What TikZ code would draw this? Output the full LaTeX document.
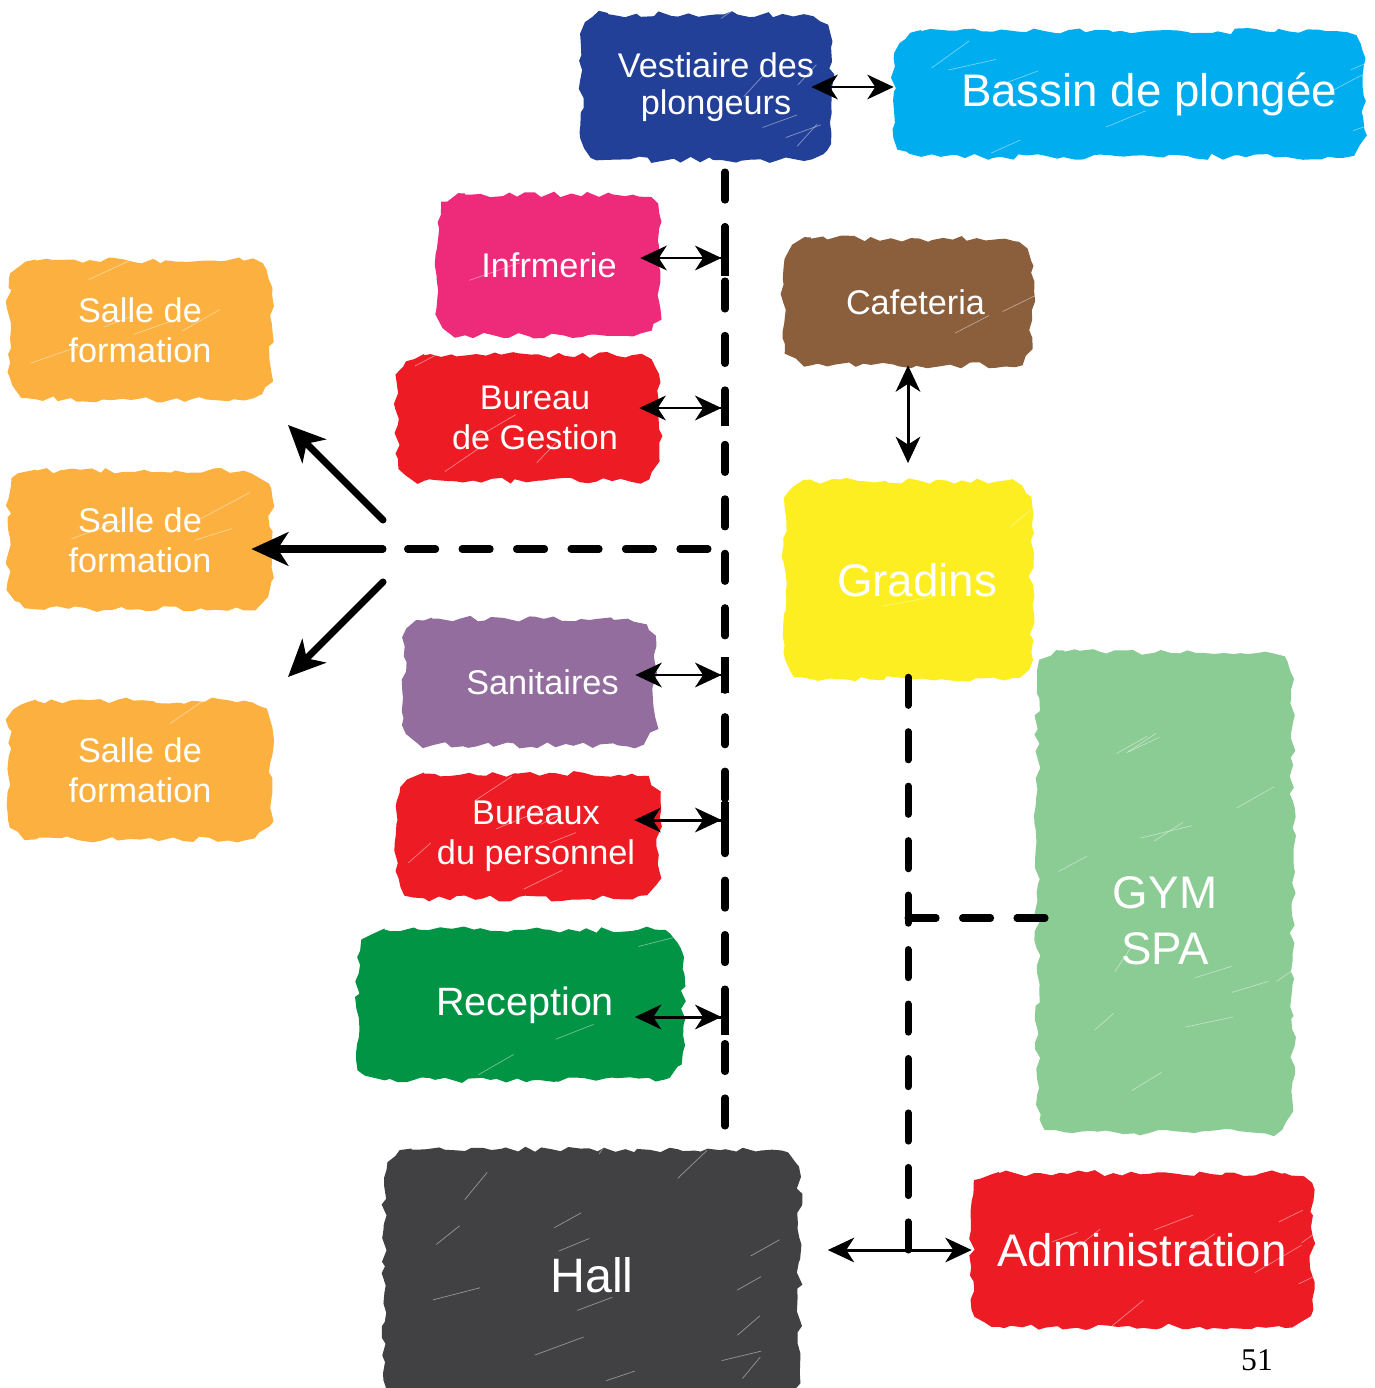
\documentclass[tikz,border=0pt]{standalone}
\usepackage{fontspec}
\setmainfont{Liberation Sans}
\newfontfamily\pagefont{Liberation Serif}
\usepackage{xcolor}
\usetikzlibrary{arrows.meta,positioning,backgrounds,decorations.pathmorphing}
\definecolor{vestblue}{RGB}{35,64,152}
\definecolor{poolcyan}{RGB}{0,174,239}
\definecolor{infpink}{RGB}{238,42,123}
\definecolor{cafebrown}{RGB}{139,94,60}
\definecolor{salleorange}{RGB}{251,176,64}
\definecolor{roomred}{RGB}{237,28,36}
\definecolor{gradyellow}{RGB}{252,238,33}
\definecolor{sanipurple}{RGB}{146,109,158}
\definecolor{gymgreen}{RGB}{139,203,148}
\definecolor{recgreen}{RGB}{0,148,68}
\definecolor{hallgrey}{RGB}{65,64,66}
% scribbled rounded patch behind a room node
\newcommand{\roomblob}[2]{%
  \fill[blob=#2] ([xshift=0.55cm]#1.north west) -- ([xshift=-0.55cm]#1.north east)
    to[out=0,in=90] ([yshift=-0.55cm]#1.north east) -- ([yshift=0.55cm]#1.south east)
    to[out=-90,in=0] ([xshift=-0.55cm]#1.south east) -- ([xshift=0.55cm]#1.south west)
    to[out=180,in=-90] ([yshift=0.55cm]#1.south west) -- ([yshift=-0.55cm]#1.north west)
    to[out=90,in=180] cycle;}

\begin{document}
\begin{tikzpicture}[
  x=0.02cm, y=-0.02cm,
  room/.style={text=white, align=center, inner sep=0pt},
  blob/.style={fill=#1, decorate, decoration={random steps, segment length=5pt, amplitude=1.8pt},
    path picture={
      \foreach \k in {1,...,30} {
        \draw[white, opacity=0.45, line width=0.4pt]
          ([xshift=rnd*10cm, yshift=rnd*10cm]path picture bounding box.south west) -- ++(28:0.4cm+rnd*0.8cm);
      }
    }},
  smalltxt/.style={font=\fontsize{19.5}{22.5}\selectfont},
  bigtxt/.style={font=\fontsize{26}{32}\selectfont},
  link/.style={line width=1.7pt,
    {Stealth[length=15pt,width=14pt,inset=4.5pt]}-{Stealth[length=15pt,width=14pt,inset=4.5pt]}},
  hook/.style={line width=1.7pt,
    {Stealth[length=15pt,width=14pt,inset=4.5pt]}-{Stealth[length=15pt,width=14pt,inset=4.5pt] Bar[width=20pt,line width=4pt]}},
  dashline/.style={line width=4pt, dash pattern=on 16pt off 15pt, line cap=round},
  fan/.style={line width=4pt, line cap=round, -{Stealth[length=21pt,width=19pt,inset=6pt]}}
]
\pgfmathsetseed{17}
\useasboundingbox (0,0) rectangle (1374,1388);

% rooms
\node[room, font=\fontsize{19.5}{21}\selectfont, minimum width=5cm, minimum height=2.9cm] (vest) at (706,87) {\hspace*{0.4cm}Vestiaire des\\\hspace*{0.4cm}plongeurs};
\node[room, bigtxt, minimum width=9.4cm, minimum height=2.5cm] (bassin) at (1129,94) {\hspace*{0.8cm}Bassin de plongée};
\node[room, smalltxt, minimum width=4.44cm, minimum height=2.8cm] (infirm) at (549,265) {Infrmerie};
\node[room, smalltxt, minimum width=4.96cm, minimum height=2.52cm] (cafe) at (908,302) {\hspace*{0.3cm}Cafeteria};
\node[room, smalltxt, minimum width=5.24cm, minimum height=2.5cm] (gestion) at (528,418) {\hspace*{0.28cm}Bureau\\\hspace*{0.28cm}de Gestion};
\node[room, bigtxt, minimum width=4.92cm, minimum height=3.96cm] (gradins) at (908,580) {\hspace*{0.36cm}Gradins};
\node[room, smalltxt, minimum width=5cm, minimum height=2.52cm] (sanit) at (530,682) {\hspace*{0.5cm}Sanitaires};
\node[room, smalltxt, minimum width=5.24cm, minimum height=2.48cm] (personnel) at (528,836) {\hspace*{0.32cm}Bureaux\\\hspace*{0.32cm}du personnel};
\node[room, bigtxt, minimum width=5.1cm, minimum height=9.6cm] (gym) at (1165,892) {\rule{0pt}{1.8cm}GYM\\SPA};
\node[room, font=\fontsize{22.5}{26}\selectfont, minimum width=6.5cm, minimum height=3cm] (recep) at (520,1005) {\hspace*{0.2cm}Reception};
\node[room, font=\fontsize{27.5}{32}\selectfont, minimum width=8.3cm, minimum height=5cm] (hall) at (592,1275) {Hall};
\node[room, bigtxt, minimum width=6.8cm, minimum height=3.06cm] (admin) at (1142,1250) {Administration};

% salles de formation
\foreach \name/\ypos in {salleA/330, salleB/540, salleC/770} {
  \node[room, smalltxt, minimum width=5.24cm, minimum height=2.76cm] (\name) at (140,\ypos) {Salle de\\formation};
}

\begin{scope}[on background layer]
  \foreach \nm/\col in {vest/vestblue, bassin/poolcyan, infirm/infpink, cafe/cafebrown, gestion/roomred,
      gradins/gradyellow, sanit/sanipurple, personnel/roomred, gym/gymgreen, recep/recgreen,
      hall/hallgrey, admin/roomred, salleA/salleorange, salleB/salleorange, salleC/salleorange} {
    \roomblob{\nm}{\col}
  }
\end{scope}

% corridor
\coordinate (spineTop) at (725,172);
\coordinate (spineEnd) at (725,1135);
\coordinate (fork) at (383,549);
\coordinate (forkUp) at (383,520);
\coordinate (forkDown) at (383,582);
\coordinate (upTip) at (288,425);
\coordinate (downTip) at (288,677);
\coordinate (gymTee) at (908,918);
\coordinate (hallTee) at (908,1250);

\draw[dashline] (spineTop) -- (spineEnd);
\draw[link] ([xshift=-0.4cm]vest.east) -- (bassin.west |- vest.east);
\foreach \room/\ay/\back in {infirm/258/0.4cm, gestion/408/0.4cm, sanit/675/0.4cm, personnel/820/0.5cm, recep/1017/0.96cm} {
  \coordinate (level) at (0,\ay);
  \draw[hook] ([xshift=-\back]\room.east |- level) -- ([xshift=2pt]spineTop |- level);
}
\draw[dashline] ([xshift=-0.34cm]spineTop |- fork) -- ([xshift=0.34cm]fork);
\draw[fan] (fork) -- ([xshift=-0.4cm]salleB.east |- fork);
\draw[fan] (forkUp) -- (upTip);
\draw[fan] (forkDown) -- (downTip);

\draw[link] (cafe.south) -- ([yshift=10pt]gradins.north);
\draw[dashline] (hallTee) -- ([yshift=3]gradins.south);
\draw[dashline] (gymTee) -- ([xshift=0.2cm]gym.west |- gymTee);
\draw[link] ([xshift=0.56cm]hall.east |- hallTee) -- (admin.west |- hallTee);

\node[font=\pagefont\fontsize{18}{20}\selectfont] (pagenum) at (1257,1360) {51};
\end{tikzpicture}
\end{document}
